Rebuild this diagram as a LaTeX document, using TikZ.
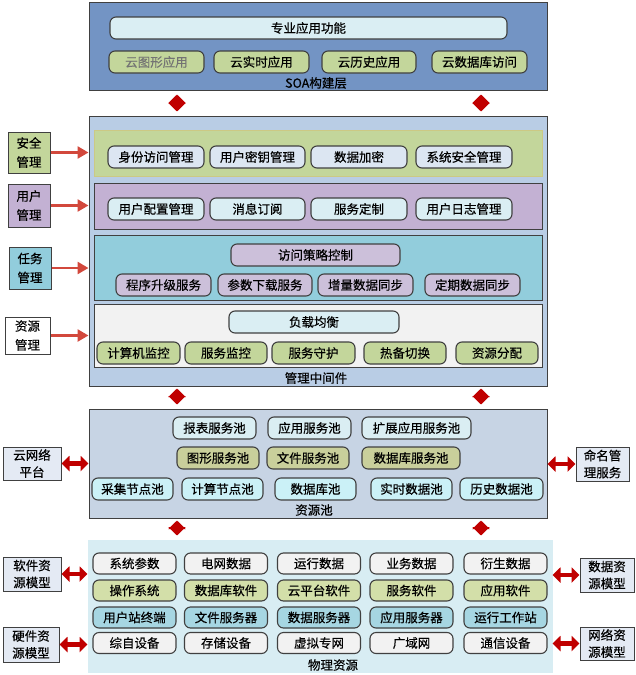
\documentclass[tikz,border=0pt]{standalone}
\usepackage{fontspec}
\setmainfont{Noto Sans CJK SC}[FakeBold=0.4,AutoFakeBold=0.4]
\usepackage{tikz}
\usetikzlibrary{arrows.meta}
\definecolor{linegray}{HTML}{404040}
\definecolor{soablue}{HTML}{7394C4}
\definecolor{mwblue}{HTML}{B9CDE5}
\definecolor{poolblue}{HTML}{C7D4E4}
\definecolor{physcyan}{HTML}{D8EDF3}
\definecolor{lightcyan}{HTML}{DAEEF3}
\definecolor{lightblue}{HTML}{DCE6F2}
\definecolor{leafgreen}{HTML}{C3D69B}
\definecolor{olivegreen}{HTML}{C9CF9B}
\definecolor{softgreen}{HTML}{D3DFA9}
\definecolor{lilac}{HTML}{C3B1D3}
\definecolor{palelilac}{HTML}{CCC0DA}
\definecolor{teal}{HTML}{92CDDC}
\definecolor{softteal}{HTML}{A6D6E2}
\definecolor{icecyan}{HTML}{CBF1F7}
\definecolor{paper}{HTML}{F2F2F2}
\definecolor{sidegray}{HTML}{E4EAF4}
\definecolor{arrowred}{HTML}{D2483C}
\definecolor{darkred}{HTML}{C00000}
\tikzset{
  layer/.style={draw=linegray,line width=1pt,inner sep=0pt},
  band/.style={draw=linegray,line width=0.9pt,inner sep=0pt,minimum width=448pt},
  pill/.style={draw=linegray,line width=1.1pt,rounded corners=6pt,minimum height=22pt,inner sep=0pt,
    font=\fontsize{12.5}{14}\selectfont},
  sidebox/.style={draw=linegray,line width=1pt,inner sep=0pt,align=center,
    font=\fontsize{12.5}{19}\selectfont},
  caption/.style={font=\fontsize{12.5}{14}\selectfont},
  redarrow/.style={-{Triangle[length=11pt,width=12pt]},line width=2.6pt,draw=arrowred},
  dblarrow/.style={{Triangle[length=8pt,width=15pt]}-{Triangle[length=8pt,width=15pt]},line width=4.5pt,draw=darkred},
  updown/.style={{Triangle[length=8.5pt,width=17pt]}-{Triangle[length=8.5pt,width=17pt]},line width=3pt,draw=darkred}
}

\begin{document}
\begin{tikzpicture}[x=1pt,y=-1pt]
  \useasboundingbox (0,0) rectangle (636,675);
  % layers
  \node[layer,fill=soablue,minimum width=458pt,minimum height=88pt] (soa) at (318,46) {};
  \node[layer,fill=mwblue,minimum width=458pt,minimum height=270pt] (mw) at (318,251) {};
  \node[layer,fill=poolblue,minimum width=458pt,minimum height=109pt] (pool) at (318,463.5) {};
  \node[layer,draw=physcyan,fill=physcyan,minimum width=464pt,minimum height=132pt] (phys) at (320,606) {};
  \coordinate (colL) at (177,0);
  \coordinate (colR) at (481,0);

  % SOA
  \node[pill,fill=lightcyan,minimum width=397pt] (func) at (308.5,28) {专业应用功能};
  \foreach \t/\x/\w [count=\i] in {云实时应用/261.5/95,云历史应用/369/94,云数据库访问/479.5/95}
    \node[pill,fill=leafgreen,minimum width=\w pt] (soa\i) at (\x,62) {\t};
  \node[pill,fill=leafgreen,minimum width=95pt,text=black!55] (soa0) at (156.5,62) {云图形应用};
  \node[caption] (soalbl) at (316,83) {SOA构建层};

  % management middleware
  \node[band,draw=leafgreen!85!orange,fill=leafgreen,minimum height=46pt] (sec) at (318,153) {};
  \node[band,fill=lilac,minimum height=46pt] (usr) at (318,206) {};
  \node[band,fill=teal,minimum height=65pt] (task) at (318,267.5) {};
  \node[band,fill=paper,minimum height=63pt] (res) at (318,335.5) {};
  \foreach \t/\x/\w [count=\i] in {身份访问管理/156/96,用户密钥管理/257.5/95,数据加密/359/96,系统安全管理/464/96}
    \node[pill,fill=lightblue,minimum width=\w pt] (sec\i) at (\x,157) {\t};
  \foreach \t/\x/\w [count=\i] in {用户配置管理/156/96,消息订阅/257.5/95,服务定制/359/96,用户日志管理/464/96}
    \node[pill,fill=lightcyan,minimum width=\w pt] (usr\i) at (\x,209) {\t};
  \node[pill,fill=palelilac,minimum width=169pt] (policy) at (315.5,255) {访问策略控制};
  \foreach \t/\x/\w [count=\i] in {程序升级服务/163.5/95,参数下载服务/265/94,增量数据同步/365.5/95,定期数据同步/472.5/95}
    \node[pill,fill=palelilac,minimum width=\w pt] (task\i) at (\x,285) {\t};
  \node[pill,fill=lightcyan,minimum width=170pt] (balance) at (314,322) {负载均衡};
  \foreach \t/\x/\w [count=\i] in {计算机监控/138.5/83,服务监控/226/82,服务守护/313.5/83,热备切换/405/82,资源分配/497/82}
    \node[pill,fill=leafgreen,minimum width=\w pt] (res\i) at (\x,353) {\t};
  \node[caption] (mwlbl) at (316,378) {管理中间件};

  \node[sidebox,fill=leafgreen,minimum width=42pt,minimum height=41pt] (secm) at (29,152.5) {安全\\管理};
  \node[sidebox,fill=lilac,minimum width=42pt,minimum height=43pt] (usrm) at (29,205.5) {用户\\管理};
  \node[sidebox,fill=teal,minimum width=42pt,minimum height=42pt] (taskm) at (30,268) {任务\\管理};
  \node[sidebox,fill=white,minimum width=45pt,minimum height=37pt] (resm) at (27.5,335.5) {资源\\管理};
  \foreach \m in {secm,usrm,taskm,resm}
    \draw[redarrow] (\m.east) -- (\m.east -| mw.west);

  % resource pool
  \foreach \t/\x/\w [count=\i] in {报表服务池/214.5/83,应用服务池/309.5/83,扩展应用服务池/416.5/109}
    \node[pill,fill=lightcyan,minimum width=\w pt] (poolA\i) at (\x,428) {\t};
  \foreach \t/\x/\w [count=\i] in {图形服务池/218/82,文件服务池/308/82,数据库服务池/411/98}
    \node[pill,fill=olivegreen,minimum width=\w pt] (poolB\i) at (\x,458) {\t};
  \foreach \t/\x/\w [count=\i] in {采集节点池/132.5/81,计算节点池/222.5/81,数据库池/315.5/81,实时数据池/411.5/81,历史数据池/501.5/83}
    \node[pill,fill=icecyan,minimum width=\w pt] (poolC\i) at (\x,489) {\t};
  \node[caption] (poollbl) at (314,510) {资源池};

  \node[sidebox,fill=sidegray,minimum width=58pt,minimum height=33pt,font=\fontsize{12.5}{17}\selectfont] (net) at (32,463.5) {云网络\\平台};
  \node[sidebox,fill=sidegray,minimum width=53pt,minimum height=34pt,font=\fontsize{12.5}{17}\selectfont] (name) at (602.5,464) {命名管\\理服务};
  \draw[dblarrow] (net.east) -- (net.east -| pool.west);
  \draw[dblarrow] (name.west) -- (name.west -| pool.east);

  % physical resources
  \foreach \t/\x [count=\i] in {系统参数/134.5,电网数据/226,运行数据/319,业务数据/411.5,衍生数据/505.5}
    \node[pill,fill=paper,minimum width=83pt,minimum height=21pt] (physA\i) at (\x,563.5) {\t};
  \foreach \t/\x [count=\i] in {操作系统/134.5,数据库软件/226,云平台软件/319,服务软件/411.5,应用软件/505.5}
    \node[pill,fill=softgreen,minimum width=83pt,minimum height=21pt] (physB\i) at (\x,590.5) {\t};
  \foreach \t/\x [count=\i] in {用户站终端/134.5,文件服务器/226,数据服务器/319,应用服务器/411.5,运行工作站/505.5}
    \node[pill,fill=softteal,minimum width=83pt,minimum height=21pt] (physC\i) at (\x,617.5) {\t};
  \foreach \t/\x [count=\i] in {综自设备/134.5,存储设备/226,虚拟专网/319,广域网/411.5,通信设备/505.5}
    \node[pill,fill=paper,minimum width=83pt,minimum height=21pt] (physD\i) at (\x,643) {\t};
  \node[caption] (physlbl) at (333,665) {物理资源};

  \node[sidebox,fill=sidegray,minimum width=58pt,minimum height=34pt,font=\fontsize{12.5}{17}\selectfont] (swm) at (32,574) {软件资\\源模型};
  \node[sidebox,fill=sidegray,minimum width=56pt,minimum height=35pt,font=\fontsize{12.5}{17}\selectfont] (hwm) at (31,644.5) {硬件资\\源模型};
  \node[sidebox,fill=sidegray,minimum width=54pt,minimum height=34pt,font=\fontsize{12.5}{17}\selectfont] (datam) at (607,575) {数据资\\源模型};
  \node[sidebox,fill=sidegray,minimum width=54pt,minimum height=33pt,font=\fontsize{12.5}{17}\selectfont] (netm) at (607,643.5) {网络资\\源模型};
  \foreach \m in {swm,hwm}
    \draw[dblarrow] (\m.east) -- (\m.east -| phys.west);
  \foreach \m in {datam,netm}
    \draw[dblarrow] (\m.west) -- (\m.west -| phys.east);

  % links between layers
  \foreach \c in {colL,colR}{
    \draw[updown] ([yshift=-4pt]soa.south -| \c) -- ([yshift=4pt]mw.north -| \c);
    \draw[updown] ([yshift=-2pt]mw.south -| \c) -- ([yshift=4pt]pool.north -| \c);
    \draw[updown] ([yshift=-2pt]pool.south -| \c) -- ([yshift=4pt]phys.north -| \c);
  }
\end{tikzpicture}
\end{document}
